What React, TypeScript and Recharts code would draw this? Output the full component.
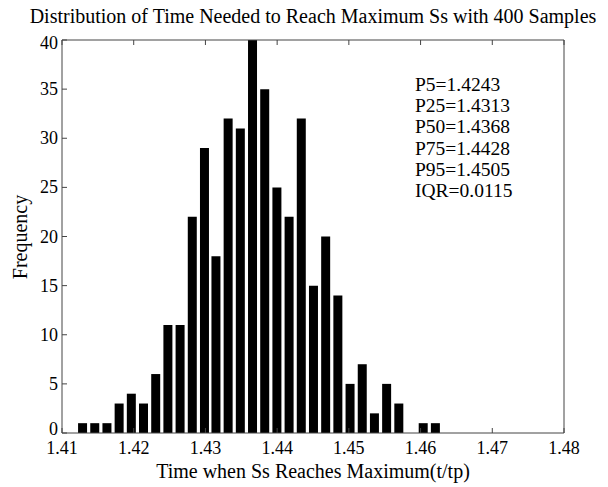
import React from 'react';
import { BarChart, Bar, XAxis, YAxis } from 'recharts';

const binCenters = [
  1.4129, 1.4146, 1.4163, 1.4180, 1.4197, 1.4214, 1.4231, 1.4248, 1.4265, 1.4282,
  1.4299, 1.4315, 1.4332, 1.4349, 1.4366, 1.4383, 1.4400, 1.4417, 1.4434, 1.4451,
  1.4468, 1.4485, 1.4502, 1.4519, 1.4536, 1.4553, 1.4570, 1.4587, 1.4604, 1.4621,
];
const frequencies = [
  1, 1, 1, 3, 4, 3, 6, 11, 11, 22,
  29, 18, 32, 31, 40, 35, 25, 22, 32, 15,
  20, 14, 5, 7, 2, 5, 3, 0, 1, 1,
];
const xTicks = [1.41, 1.42, 1.43, 1.44, 1.45, 1.46, 1.47, 1.48];
const yTicks = [0, 5, 10, 15, 20, 25, 30, 35, 40];
const stats = ['P5=1.4243', 'P25=1.4313', 'P50=1.4368', 'P75=1.4428', 'P95=1.4505', 'IQR=0.0115'];
const title = 'Distribution of Time Needed to Reach Maximum Ss with 400 Samples';
const xLabel = 'Time when Ss Reaches Maximum(t/tp)';
const yLabel = 'Frequency';

const data = binCenters.map((x, i) => ({ x, y: frequencies[i] }));

const FONT = '"Liberation Serif", "Times New Roman", serif';
const AX = '#444';

const YTick = (props: any) => {
  const { x, y, payload } = props;
  const v = payload.value;
  const shift = v === yTicks[0] ? -4 : v === yTicks[yTicks.length - 1] ? 3 : 0;
  return (
    <text
      x={x}
      y={y + shift}
      textAnchor="end"
      dominantBaseline="central"
      fontFamily={FONT}
      fontSize={18}
      fill="#000"
    >
      {v}
    </text>
  );
};

export default function App() {
  const tickStyle = { fontFamily: FONT, fontSize: 18, fill: '#000' };
  return (
    <div style={{ position: 'absolute', left: 0, top: 0, width: 608, height: 487, background: '#fff', fontFamily: FONT }}>
      <BarChart
        width={608}
        height={487}
        data={data}
        margin={{ top: 30, right: 34, bottom: 24, left: 22 }}
      >
        <XAxis
          xAxisId="b"
          dataKey="x"
          type="number"
          domain={[1.41, 1.48]}
          ticks={xTicks}
          allowDataOverflow
          orientation="bottom"
          height={30}
          tickSize={-5}
          tickMargin={13}
          stroke={AX}
          tick={tickStyle}
          tickFormatter={(v: number) => v.toFixed(2)}
          interval={0}
        />
        <XAxis
          xAxisId="t"
          dataKey="x"
          type="number"
          domain={[1.41, 1.48]}
          ticks={xTicks}
          allowDataOverflow
          orientation="top"
          height={10}
          tickSize={-5}
          stroke={AX}
          tickFormatter={() => ''}
          interval={0}
        />
        <YAxis
          yAxisId="l"
          type="number"
          domain={[0, 40]}
          ticks={yTicks}
          orientation="left"
          width={40}
          tickSize={-5}
          tickMargin={9}
          stroke={AX}
          tick={<YTick />}
          interval={0}
        />
        <YAxis
          yAxisId="r"
          type="number"
          domain={[0, 40]}
          ticks={yTicks}
          orientation="right"
          width={10}
          tickSize={-5}
          stroke={AX}
          tickFormatter={() => ''}
          interval={0}
        />
        <Bar
          xAxisId="b"
          yAxisId="l"
          dataKey="y"
          fill="#000"
          barSize={9}
          isAnimationActive={false}
        />
      </BarChart>
      <div style={{ position: 'absolute', left: 313, top: 5, transform: 'translateX(-50%)', fontSize: 20, color: '#000', whiteSpace: 'nowrap' }}>
        {title}
      </div>
      <div style={{ position: 'absolute', left: 313, top: 460, transform: 'translateX(-50%)', fontSize: 20, lineHeight: '22px', color: '#000', whiteSpace: 'nowrap' }}>
        {xLabel}
      </div>
      <div style={{ position: 'absolute', left: 20, top: 237, fontSize: 20, color: '#000', transform: 'translate(-50%, -50%) rotate(-90deg)', whiteSpace: 'nowrap' }}>
        {yLabel}
      </div>
      <div style={{ position: 'absolute', left: 415, top: 74, fontSize: 19.5, lineHeight: '21.2px', color: '#000' }}>
        {stats.map((s) => (
          <div key={s}>{s}</div>
        ))}
      </div>
    </div>
  );
}
